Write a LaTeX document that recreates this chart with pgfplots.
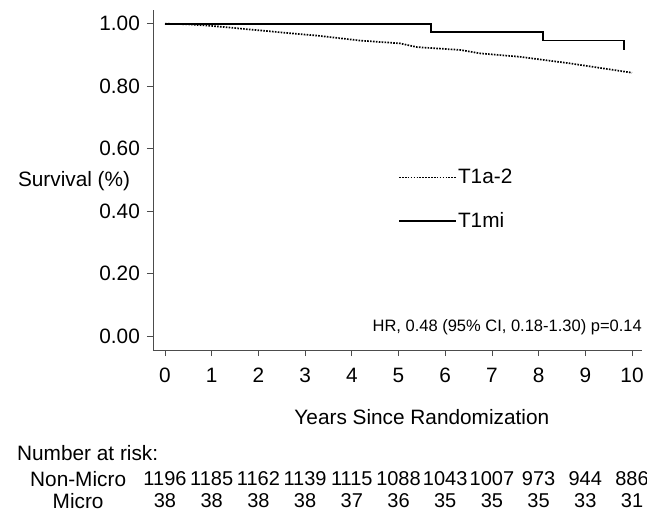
\documentclass[border=0pt]{standalone}
\usepackage{fontspec}
\setmainfont{Liberation Sans}
\usepackage{pgfplots}
\pgfplotsset{compat=1.18}

\begin{document}
\fontsize{20.8bp}{25bp}\selectfont
\begin{tikzpicture}
\useasboundingbox (-153bp,-162bp) rectangle (494bp,350bp);
\begin{axis}[
    at={(0,0)}, anchor=south west,
    scale only axis,
    width=489bp, height=340bp,
    xmin=-0.257, xmax=10.214,
    ymin=-0.0448, ymax=1.0439,
    axis lines=left,
    axis line style={-, black!70, line width=0.8bp},
    tick style={black!70, line width=0.8bp},
    tick align=outside,
    major tick length=6bp,
    xtick={0,1,...,10},
    ytick={0,0.2,0.4,0.6,0.8,1.0},
    /pgf/number format/assume math mode=true,
    yticklabel style={/pgf/number format/.cd, fixed, fixed zerofill, precision=2},
    xticklabel style={yshift=-5bp},
    clip=false,
    xlabel={Years Since Randomization},
    xlabel style={at={(axis cs:5.5,-0.259)}, anchor=center},
    ylabel={Survival (\%)},
    ylabel style={at={(axis cs:-3.30,0.496)}, anchor=west, rotate=-90},
    legend style={at={(axis cs:4.99,0.54)}, anchor=north west, draw=none, fill=none,
        inner sep=0pt, row sep=24bp, nodes={inner sep=1bp, anchor=west}},
    legend cell align=left,
    legend image code/.code={\draw[#1] (0bp,0bp) -- (57bp,0bp);},
]
% T1a-2 (dotted)
\addplot[black, line width=1.7bp, dash pattern=on 1.6bp off 1.3bp] coordinates {
    (0,1.000) (0.5,0.998) (1,0.993) (2,0.979) (3,0.965) (3.25,0.962)
    (4.18,0.946) (5.03,0.937) (5.4,0.925) (6.32,0.916) (6.75,0.905)
    (7.6,0.894) (8.67,0.873) (9.38,0.857) (10,0.843)
};
\addlegendentry{T1a-2}
% T1mi (solid)
\addplot[black, line width=1.8bp] coordinates {
    (0,1.000) (5.69,1.000) (5.69,0.973) (8.10,0.973) (8.10,0.946)
    (9.83,0.946) (9.83,0.917)
};
\addlegendentry{T1mi}
% Number at risk rows
\addplot[only marks, mark=none, forget plot, nodes near coords,
    point meta=explicit symbolic, nodes near coords style={anchor=center, inner sep=0pt, font=\fontsize{20bp}{24bp}\selectfont}]
    coordinates {
    (0,-0.458) [1196] (1,-0.458) [1185] (2,-0.458) [1162] (3,-0.458) [1139]
    (4,-0.458) [1115] (5,-0.458) [1088] (6,-0.458) [1043] (7,-0.458) [1007]
    (8,-0.458) [973] (9,-0.458) [944] (10,-0.458) [886]
};
\addplot[only marks, mark=none, forget plot, nodes near coords,
    point meta=explicit symbolic, nodes near coords style={anchor=center, inner sep=0pt, font=\fontsize{20bp}{24bp}\selectfont}]
    coordinates {
    (0,-0.527) [38] (1,-0.527) [38] (2,-0.527) [38] (3,-0.527) [38]
    (4,-0.527) [37] (5,-0.527) [36] (6,-0.527) [35] (7,-0.527) [35]
    (8,-0.527) [35] (9,-0.527) [33] (10,-0.527) [31]
};
\node[anchor=west, inner sep=0pt] at (axis cs:-3.17,-0.375) {Number at risk:};
\node[anchor=center, inner sep=0pt] at (axis cs:-1.86,-0.458) {Non-Micro};
\node[anchor=center, inner sep=0pt] at (axis cs:-1.86,-0.527) {Micro};
\node[anchor=east, inner sep=0pt, font=\fontsize{16.5bp}{19bp}\selectfont]
    at (axis cs:10.214,0.029) {HR, 0.48 (95\% CI, 0.18-1.30) p=0.14};
\end{axis}
\end{tikzpicture}
\end{document}
